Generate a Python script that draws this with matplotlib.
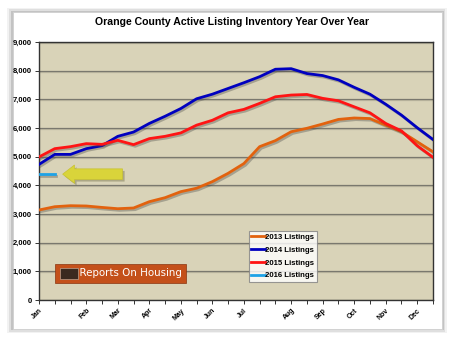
import matplotlib.pyplot as plt
import matplotlib.patheffects as pe
from matplotlib.patches import FancyArrow, Rectangle
from matplotlib.ticker import FuncFormatter

# biweekly readings, 26 points per year
listings_2013 = [3140, 3255, 3290, 3280, 3230, 3185, 3210, 3430, 3570, 3780, 3900, 4130, 4420,
                 4760, 5350, 5560, 5870, 5990, 6140, 6300, 6350, 6330, 6100, 5870, 5520, 5170]
listings_2014 = [4730, 5080, 5080, 5280, 5385, 5710, 5860, 6160, 6410, 6680, 7020, 7180, 7380,
                 7580, 7790, 8050, 8070, 7900, 7830, 7680, 7420, 7180, 6830, 6450, 6010, 5600]
listings_2015 = [4990, 5280, 5350, 5455, 5430, 5570, 5420, 5630, 5710, 5830, 6100, 6270, 6530,
                 6650, 6860, 7090, 7150, 7170, 7035, 6950, 6740, 6530, 6160, 5900, 5380, 4980]
listings_2016 = [4390, 4390]

month_labels = ['Jan', 'Feb', 'Mar', 'Apr', 'May', 'Jun', 'Jul', 'Aug', 'Sep', 'Oct', 'Nov', 'Dec']
month_pos = [0, 3, 5, 7, 9, 11, 13, 16, 18, 20, 22, 24]

series = [
    ('2013 Listings', listings_2013, '#e2620e'),
    ('2014 Listings', listings_2014, '#0000bf'),
    ('2015 Listings', listings_2015, '#ff1414'),
    ('2016 Listings', listings_2016, '#1ea2e6'),
]

fig = plt.figure(figsize=(4.54, 3.41), dpi=100)
fig.patch.set_facecolor('white')

# card with soft shadow
for i, a in enumerate([0.05, 0.08, 0.12]):
    d = (3 - i) * 0.004
    fig.patches.append(Rectangle((0.028 - d, 0.035 - d), 0.945 + 2 * d, 0.93 + 2 * d,
                                 transform=fig.transFigure, facecolor='black', alpha=a,
                                 edgecolor='none', zorder=-3))
fig.patches.append(Rectangle((0.028, 0.035), 0.945, 0.93, transform=fig.transFigure,
                             facecolor='white', edgecolor='#d0d0d0', lw=0.6, zorder=-2))

ax = fig.add_axes([0.0859, 0.1202, 0.8678, 0.7566])
ax.set_facecolor('#d9d3b8')

shadow = [pe.SimpleLineShadow(offset=(1.2, -1.2), alpha=0.35, shadow_color='#444'), pe.Normal()]
for name, vals, color in series:
    ax.plot(range(len(vals)), vals, color=color, lw=2, label=name, path_effects=shadow,
            solid_joinstyle='round', zorder=3)

ax.set_xlim(0, 25)
ax.set_ylim(0, 9000)
ax.set_yticks(range(0, 9001, 1000))
ax.yaxis.set_major_formatter(FuncFormatter(lambda v, p: f'{int(v):,}'))
ax.grid(axis='y', color='#7a786e', lw=0.9,
        path_effects=[pe.SimpleLineShadow(offset=(0, -0.8), alpha=0.12), pe.Normal()])
ax.set_axisbelow(True)

ax.set_xticks(range(26))
lab = [''] * 26
for m, p in zip(month_labels, month_pos):
    lab[p] = m
ax.set_xticklabels(lab, rotation=45, ha='right', rotation_mode='anchor')
ax.tick_params(axis='x', length=3, width=0.7, labelsize=5, pad=2, color='#333')
ax.tick_params(axis='y', length=3, width=0.7, labelsize=5.5, pad=2, color='#333')
for t in ax.get_xticklabels() + ax.get_yticklabels():
    t.set_fontweight('bold')
    t.set_family('Liberation Sans')
for s in ax.spines.values():
    s.set_color('#333333')
    s.set_linewidth(1.0)

# yellow arrow pointing at the 2016 number
ax.add_patch(FancyArrow(5.3, 4390, -3.8, 0, width=370, head_width=640, head_length=0.75,
                        length_includes_head=True, facecolor='#d9d43a', edgecolor='#c8c230',
                        lw=0.5, zorder=2,
                        path_effects=[pe.SimplePatchShadow(offset=(1.5, -1.5), alpha=0.3), pe.Normal()]))

leg = ax.legend(loc='upper left', bbox_to_anchor=(0.532, 0.268), frameon=True, fancybox=False,
                prop={'family': 'Liberation Sans', 'weight': 'bold', 'size': 5.6},
                handlelength=1.7, handletextpad=0.1, labelspacing=0.68, borderpad=0.35,
                borderaxespad=0)
leg.get_frame().set_edgecolor('#808080')
leg.get_frame().set_linewidth(0.8)
for h in leg.get_lines():
    h.set_path_effects([])
    h.set_linewidth(2)

# logo badge
ax.text(0.05, 0.103, '\u2003\u2003Reports On Housing', transform=ax.transAxes,
        fontsize=7.4, color='white', family='DejaVu Sans', va='center', ha='left', zorder=5,
        bbox=dict(boxstyle='square,pad=0.4', facecolor='#c4501a', edgecolor='#8a3510', lw=0.5))
ax.add_patch(Rectangle((0.054, 0.083), 0.045, 0.042, transform=ax.transAxes,
                       facecolor='#3a2a20', edgecolor='#ccbbaa', lw=0.4, zorder=6))

fig.text(0.511, 0.935, 'Orange County Active Listing Inventory Year Over Year',
         ha='center', va='center', fontsize=7.6, fontweight='bold', family='Liberation Sans')

fig.savefig('out.png', dpi=100)
